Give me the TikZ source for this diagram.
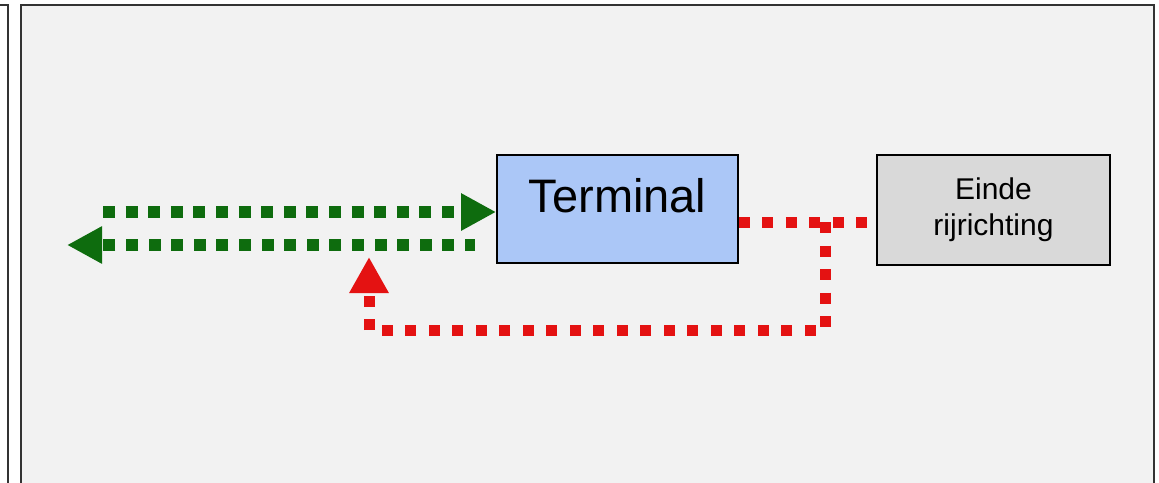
\documentclass[tikz,border=0pt]{standalone}
\usepackage{fontspec}
\setmainfont{Liberation Sans}
\usetikzlibrary{arrows.meta}
\definecolor{panelbg}{HTML}{F2F2F2}
\definecolor{framec}{HTML}{333333}
\definecolor{termfill}{HTML}{ABC7F7}
\definecolor{eindefill}{HTML}{D9D9D9}
\definecolor{dgreen}{RGB}{14,108,14}
\definecolor{dred}{RGB}{228,18,18}
\tikzset{
  frameline/.style={draw=framec, line width=2pt},
  boxstyle/.style={draw=black, line width=1.8pt, rectangle, inner sep=0pt, align=center},
  greendots/.style={draw=dgreen, line width=12pt, line cap=butt, dash pattern=on 12pt off 10.6pt,
     -{Triangle[length=35pt,width=35pt]}},
  reddots/.style={draw=dred, line width=11pt, line cap=butt, dash pattern=on 11pt off 12.5pt},
}
\begin{document}
\begin{tikzpicture}[x=1pt,y=-1pt]
\useasboundingbox (0,0) rectangle (1159,482);
\clip (0,0) rectangle (1159,482);
\fill[white] (0,0) rectangle (1159,482);
% left partial frame
\draw[frameline] (-5,5) -- (8,5) -- (8,490);
% main panel
\draw[frameline, fill=panelbg] (21,490) -- (21,5) -- (1154,5) -- (1154,490);
% boxes
\node[boxstyle, fill=termfill, minimum width=241pt, text height=57pt, text depth=51pt,
      font=\fontsize{47}{56}\selectfont] (T) at (617.5,209) {Terminal};
\node[boxstyle, fill=eindefill, minimum width=233pt, minimum height=110pt,
      font=\fontsize{30}{36}\selectfont] (E) at (993.5,210) {Einde\\rijrichting};
% green arrows
\coordinate (g1s) at (103,212);
\coordinate (g2s) at (475,245);
\coordinate (g2e) at (67,245);
\draw[greendots] (g1s) -- (g1s -| T.west);
\draw[greendots, dash phase=2pt] (g2s) -- (g2e);
% red connectors
\coordinate (r) at (0,222);
\coordinate (J) at (825,222);
\coordinate (c1) at (825,330);
\coordinate (c2) at (369,330);
\coordinate (rt) at (369,257);
\draw[reddots] (T.east |- r) -- (E.west |- r);
\draw[reddots, -{Triangle[length=36pt,width=37pt]}] (J) -- (c1) -- (c2) -- (rt);
\end{tikzpicture}
\end{document}
